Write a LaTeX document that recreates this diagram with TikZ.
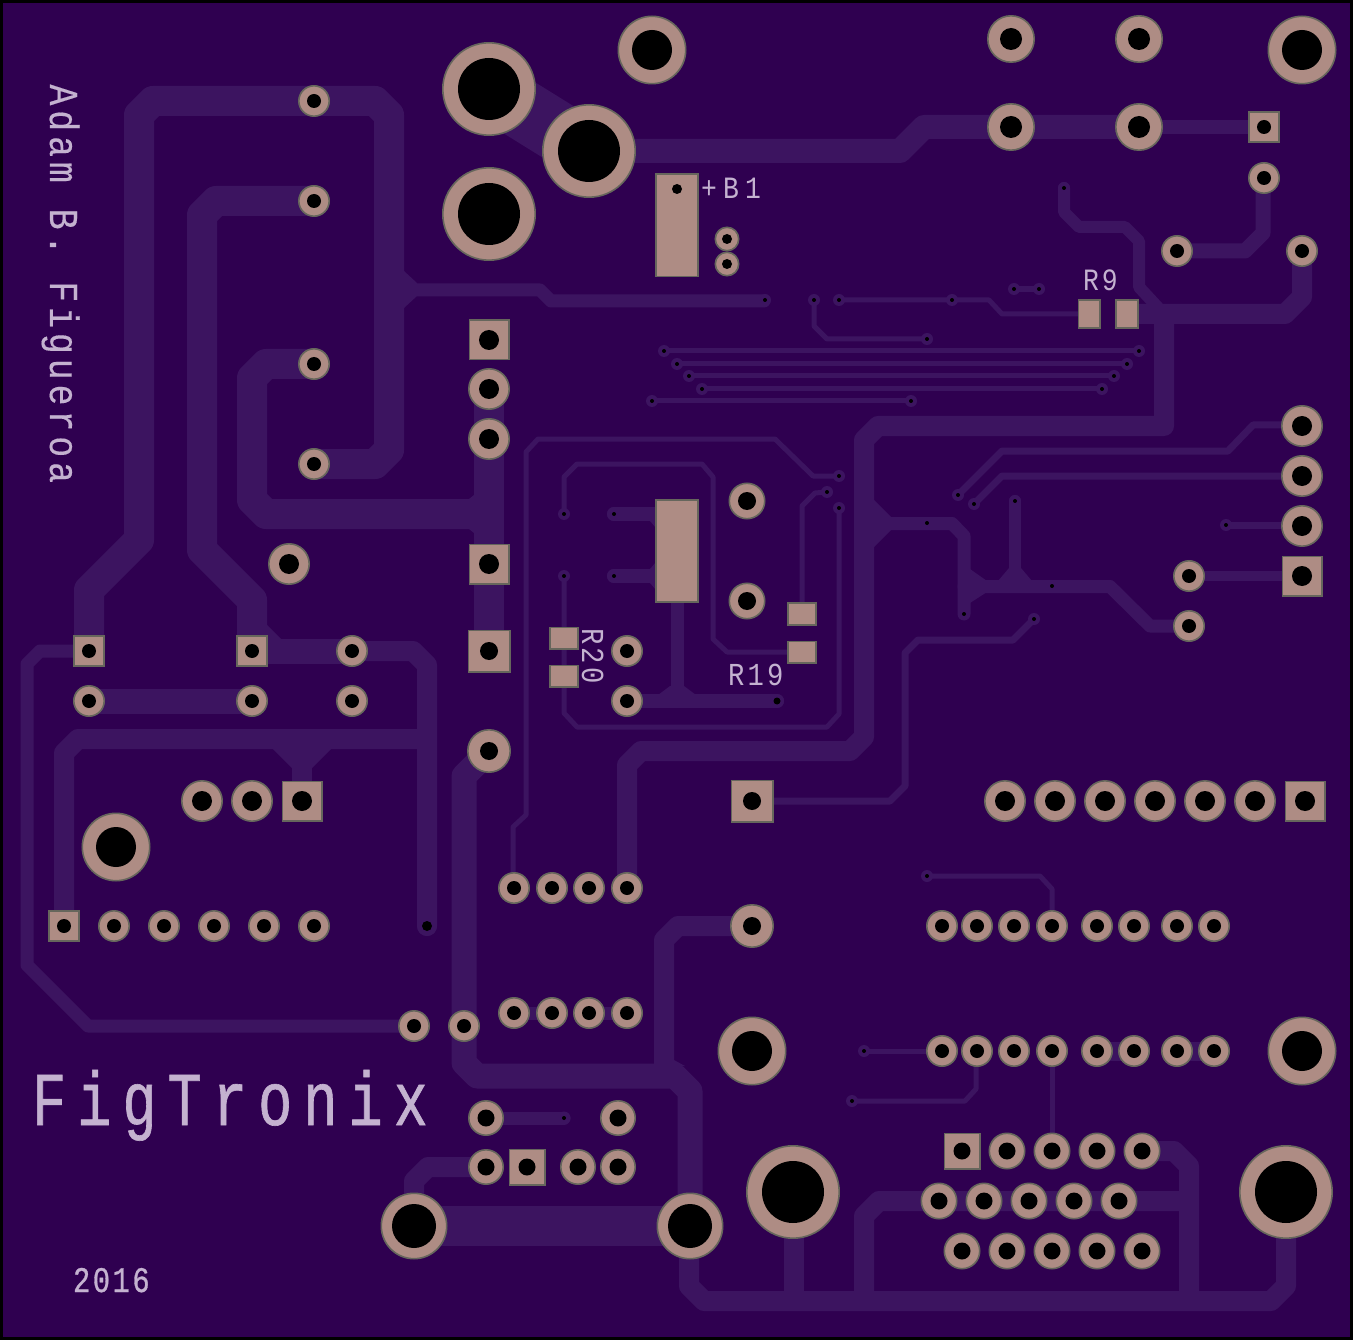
\documentclass[tikz,border=0pt]{standalone}
\usepackage{fontspec}
\newfontfamily\silkbrand[FakeStretch=0.75,LetterSpace=14.5,FakeBold=0.8]{Liberation Mono}
\newfontfamily\silkname[FakeStretch=0.85,LetterSpace=12,FakeBold=0.3]{Liberation Mono}
\newfontfamily\silkref[FakeStretch=0.85,LetterSpace=10]{Liberation Mono}
\newfontfamily\silkplus[FakeStretch=0.85,LetterSpace=20]{Liberation Mono}
\newfontfamily\silkyear[FakeStretch=0.8,LetterSpace=7,FakeBold=0.8]{Liberation Mono}
\definecolor{board}{RGB}{47,0,80}
\definecolor{copper}{RGB}{60,20,96}
\definecolor{padfill}{RGB}{174,140,132}
\definecolor{padline}{RGB}{102,102,92}
\definecolor{silkcol}{RGB}{196,178,208}
\newcommand\Cpad[4]{\fill[padfill,draw=padline,line width=1.6pt] (#1,#2) circle[radius=#3-0.8];\fill[black] (#1,#2) circle[radius=#4];}
\newcommand\Spad[5]{\fill[padfill,draw=padline,line width=1.6pt] ({#1-#3/2+0.8},{#2-#4/2+0.8}) rectangle ({#1+#3/2-0.8},{#2+#4/2-0.8});\fill[black] (#1,#2) circle[radius=#5];}
\newcommand\Smd[4]{\fill[padfill,draw=padline,line width=1.6pt] ({#1-#3/2+0.8},{#2-#4/2+0.8}) rectangle ({#1+#3/2-0.8},{#2+#4/2-0.8});}
\newcommand\Via[4]{\fill[copper] (#1,#2) circle[radius=#3];\fill[black] (#1,#2) circle[radius=#4];}
\tikzset{
  tr/.style={draw=copper,line width=#1,line join=round,line cap=round},
  wedge/.style={fill=copper},
  silktext/.style={text=silkcol,inner sep=0pt,outer sep=0pt,anchor=base west},
}
\begin{document}
\begin{tikzpicture}[x=1pt,y=-1pt]
\useasboundingbox (0,0) rectangle (1353,1340);
\fill[black] (0,0) rectangle (1353,1340);
\fill[board] (3,3) rectangle (1350,1337);
% thick left traces
\draw[tr=30pt] (89,651) -- (89,590) -- (139,540) -- (139,115) -- (153,101) -- (375,101) -- (389,115) -- (389,450) -- (375,464) -- (314,464);
\draw[tr=30pt] (252,651) -- (252,600) -- (202,550) -- (202,215) -- (216,201) -- (314,201);
\draw[tr=30pt] (314,364) -- (266,364) -- (252,378) -- (252,500) -- (266,514) -- (489,514);
\draw[tr=30pt] (489,389) -- (489,651);
\fill[wedge] (469,499) -- (474,495) -- (474,533) -- (469,529) -- cycle;
\fill[wedge] (404,271) -- (417,283) -- (417,296) -- (404,308) -- cycle;
\draw[tr=13pt] (404,290) -- (540,290) -- (551,301) -- (764,301);
% power top
\draw[tr=60pt] (489,89) -- (589,151);
\draw[tr=24pt] (589,151) -- (900,151) -- (924,127) -- (1139,127);
\draw[tr=14pt] (1139,127) -- (1264,127);
\draw[tr=15pt] (1177,251) -- (1245,251) -- (1263,233) -- (1263,178);
\draw[tr=20pt] (1127,314) -- (1285,314) -- (1302,297) -- (1302,251);
\draw[tr=12pt] (1064,188) -- (1064,212) -- (1079,227) -- (1125,227) -- (1139,241) -- (1139,287) -- (1164,314);
\draw[tr=20pt] (1164,314) -- (1164,426) -- (878,426) -- (864,440) -- (864,737) -- (850,751) -- (641,751) -- (627,765) -- (627,888);
% branch right of the main rail
\fill[wedge] (874,500) -- (891,517) -- (891,530) -- (874,547) -- cycle;
\draw[tr=13pt] (885,523.5) -- (952,523.5) -- (964,536) -- (964,614);
\draw[tr=13pt] (964,586.5) -- (1110,586.5) -- (1150,626) -- (1189,626);
\draw[tr=12pt] (1015,501) -- (1015,586);
\fill[wedge] (970,569) -- (987,581) -- (987,592) -- (970,603) -- cycle;
\fill[wedge] (1009,568) -- (1021,568) -- (1032,581) -- (998,581) -- cycle;
% thin bus
\draw[tr=5pt] (664,351) -- (1139,351);
\draw[tr=5pt] (677,364) -- (1127,364);
\draw[tr=5pt] (689,376) -- (1114,376);
\draw[tr=5pt] (702,389) -- (1102,389);
\draw[tr=5pt] (652,401) -- (911,401);
\draw[tr=5pt] (814,300) -- (814,326) -- (827,339) -- (927,339);
\draw[tr=5pt] (839,300) -- (989,300) -- (1002,314) -- (1089,314);
\draw[tr=6pt] (1014,289) -- (1039,289);
\draw[tr=7pt] (958,495) -- (1002,451) -- (1228,451) -- (1253,425) -- (1302,425);
\draw[tr=7pt] (974,504) -- (1002,476) -- (1302,476);
\draw[tr=7pt] (1226,525) -- (1302,525);
\draw[tr=10pt] (1189,576) -- (1302,576);
% centre loops
\draw[tr=5pt] (839,476) -- (813,476) -- (775,439) -- (538,439) -- (526,452) -- (526,815) -- (513,827) -- (513,888);
\draw[tr=5pt] (564,514) -- (564,477) -- (577,464) -- (702,464) -- (713,477) -- (713,639) -- (727,652) -- (802,652);
\draw[tr=5pt] (564,576) -- (564,713) -- (577,727) -- (827,727) -- (839,714) -- (839,508);
\draw[tr=5pt] (802,614) -- (802,506) -- (815,493) -- (827,492);
\draw[tr=14pt] (614,514) -- (677,514);
\draw[tr=14pt] (614,576) -- (677,576);
\fill[wedge] (650,521) -- (656,521) -- (656,528) -- cycle;
\fill[wedge] (650,569) -- (656,569) -- (656,562) -- cycle;
\fill[wedge] (650,583) -- (656,583) -- (656,590) -- cycle;
\draw[tr=13pt] (677,603) -- (677,701);
\draw[tr=14pt] (627,701) -- (777,701);
\fill[wedge] (670,686) -- (684,686) -- (696,695) -- (658,695) -- cycle;
% left block
\fill[wedge] (267,625) -- (282,640) -- (267,645) -- cycle;
\draw[tr=25pt] (252,651) -- (352,651);
\draw[tr=20pt] (352,651) -- (413,651) -- (427,665) -- (427,926);
\draw[tr=25pt] (89,701) -- (252,701);
\draw[tr=20pt] (427,739) -- (78,739) -- (64,753) -- (64,926);
\draw[tr=20pt] (302,739) -- (302,801);
\fill[wedge] (273,749) -- (331,749) -- (312,768) -- (292,768) -- cycle;
\draw[tr=13pt] (89,651) -- (40,651) -- (27,664) -- (27,965) -- (88,1026) -- (414,1026);
% lower left and centre
\draw[tr=25pt] (489,751) -- (464,776) -- (464,1063) -- (477,1076) -- (675,1076) -- (690,1091) -- (690,1226);
\draw[tr=20pt] (664,1076) -- (664,940) -- (678,926) -- (752,926);
\draw[tr=20pt] (689,1226) -- (689,1286) -- (704,1301) -- (1271,1301) -- (1286,1286) -- (1286,1192);
\draw[tr=20pt] (794,1192) -- (794,1301);
\draw[tr=20pt] (864,1301) -- (864,1216) -- (879,1201) -- (1189,1201);
\draw[tr=20pt] (1189,1301) -- (1189,1166) -- (1174,1151) -- (1142,1151);
\fill[wedge] (674,1060) -- (685,1066) -- (674,1066) -- cycle;
\draw[tr=40pt] (414,1226) -- (690,1226);
\draw[tr=20pt] (486,1167) -- (428,1167) -- (414,1181) -- (414,1226);
\draw[tr=13pt] (486,1118) -- (564,1118);
\draw[tr=13pt] (514,1013) -- (552,1013);
\draw[tr=13pt] (589,1013) -- (627,1013);
\draw[tr=7pt] (752,801) -- (890,801) -- (905,786) -- (905,653) -- (918,640) -- (1013,640) -- (1034,619);
% right lower thin
\draw[tr=5pt] (927,876) -- (1040,876) -- (1052,889) -- (1052,926);
\draw[tr=5pt] (864,1051) -- (942,1051);
\draw[tr=5pt] (852,1101) -- (965,1101) -- (976,1089) -- (976,1051);
\draw[tr=5pt] (1052,1051) -- (1052,1151);
\draw[tr=19pt] (1097,1051) -- (1134,1051);
\draw[tr=19pt] (1177,1051) -- (1214,1051);
% vias
\foreach \x/\y in {814/300,839/300,952/300,1014/289,1039/289,664/351,677/364,689/376,702/389,652/401,911/401,1139/351,1127/364,1114/376,1102/389,927/339,958/495,974/504,1226/525,839/476,827/492,839/508,564/514,564/576,927/876,864/1051,852/1101,1034/619}
  {\Via{\x}{\y}{6}{2};}
\foreach \x/\y in {765/300,1064/188,1015/501,964/614}
  {\Via{\x}{\y}{6}{2};}
\foreach \x/\y in {927/523,1052/586}
  {\fill[black] (\x,\y) circle[radius=2];}
\Via{614}{514}{7}{2}
\Via{614}{576}{7}{2}
\Via{777}{701}{7}{3.5}
\Via{427}{926}{10}{5}
\Via{564}{1118}{6.5}{2}
% SMD pads
\Smd{677}{225.5}{44}{104}
\fill[black] (677,189) circle[radius=5];
\Smd{677}{551}{44}{104}
\Smd{564}{638}{30}{23}
\Smd{564}{676}{30}{23}
\Smd{802}{614}{30}{24}
\Smd{802}{652}{30}{23}
\Smd{1089}{314}{23}{30}
\Smd{1127}{314}{24}{30}
% through hole pads
\foreach \x/\y in {314/101,314/201,314/364,314/464,1264/178,1177/251,1302/251,1189/576,1189/626,627/651,627/701,352/651,89/701,252/701,352/701,114/926,164/926,214/926,264/926,314/926,414/1026,464/1026,514/888,552/888,589/888,627/888,514/1013,552/1013,589/1013,627/1013}
  {\Cpad{\x}{\y}{16}{7};}
\foreach \x in {942,977,1014,1052,1097,1134,1177,1214}
  {\Cpad{\x}{926}{16}{7};\Cpad{\x}{1051}{16}{7};}
\Spad{1264}{127}{32}{32}{7}
\Spad{89}{651}{32}{32}{7}
\Spad{252}{651}{32}{32}{7}
\Spad{64}{926}{32}{32}{7}
\Cpad{727}{239}{12.5}{5}
\Cpad{727}{264}{12.5}{5}
\foreach \x/\y in {489/389,489/439,289/564,1302/426,1302/476,1302/526,202/801,252/801,1005/801,1055/801,1105/801,1155/801,1205/801,1255/801}
  {\Cpad{\x}{\y}{21}{10};}
\Spad{489}{340}{41}{41}{10}
\Spad{489}{564}{41}{41}{10}
\Spad{489}{651}{43}{43}{9}
\Cpad{489}{751}{22}{9}
\Spad{302}{801}{41}{41}{10}
\Spad{1302}{576}{41}{41}{10}
\Spad{1305}{801}{41}{41}{10}
\Spad{752}{801}{43}{43}{9}
\foreach \x/\y in {1011/39,1139/39,1011/127,1139/127}
  {\Cpad{\x}{\y}{24}{11};}
\Cpad{747}{501}{18.5}{9}
\Cpad{747}{601}{18.5}{9}
\Cpad{752}{926}{22}{9}
\foreach \x/\y in {489/89,589/151,489/214,793/1192,1286/1192}
  {\Cpad{\x}{\y}{47}{31};}
\foreach \x/\y in {652/50,1302/50,116/847,752/1051,1302/1051}
  {\Cpad{\x}{\y}{34.5}{20};}
\Cpad{414}{1226}{33.5}{22}
\Cpad{690}{1226}{33.5}{22}
\foreach \x/\y in {486/1118,618/1118,486/1167,578/1167,618/1167}
  {\Cpad{\x}{\y}{18}{8.5};}
\Spad{527}{1167}{37}{37}{8.5}
\Spad{962}{1151}{37}{37}{8.5}
\foreach \x in {1007,1052,1097,1142}
  {\Cpad{\x}{1151}{18.5}{8.5};}
\foreach \x in {939,984,1029,1074,1119}
  {\Cpad{\x}{1201}{18.5}{8.5};}
\foreach \x in {962,1007,1052,1097,1142}
  {\Cpad{\x}{1251}{18.5}{8.5};}
% silkscreen
\node[silktext,rotate=-90,font=\silkname\fontsize{41}{41}\selectfont] (author) at (50,84.5) {Adam B. Figueroa};
\node[silktext,font=\silkbrand\fontsize{76}{76}\selectfont] (brand) at (32,1125) {FigTronix};
\node[silktext,font=\silkyear\fontsize{36}{36}\selectfont] (year) at (73,1292) {2016};
\node[silktext,font=\silkplus\fontsize{31}{31}\selectfont] (b1) at (701,199) {+B1};
\node[silktext,font=\silkref\fontsize{31}{31}\selectfont] (r9) at (1083,291) {R9};
\node[silktext,font=\silkref\fontsize{32}{32}\selectfont] (r19) at (728,685) {R19};
\node[silktext,rotate=-90,font=\silkref\fontsize{32}{32}\selectfont] (r20) at (582,628) {R20};
\end{tikzpicture}
\end{document}
